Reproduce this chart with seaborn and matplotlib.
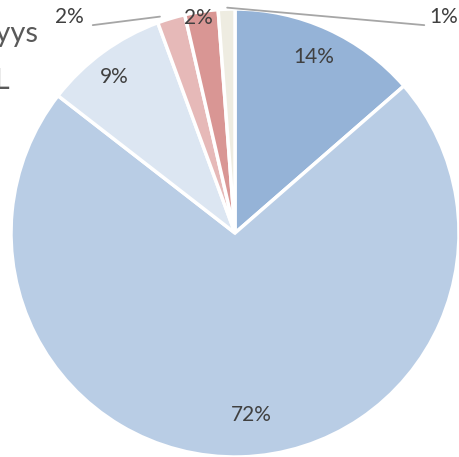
import numpy as np
import matplotlib
matplotlib.use("Agg")
import matplotlib.pyplot as plt
import seaborn as sns

# osuudet (prosenttia), kellon suuntaan ylhäältä alkaen
shares = [13.6, 71.9, 8.9, 2.0, 2.4, 1.2]
slice_colors = ["#95B3D7", "#B9CDE5", "#DCE6F2", "#E6B9B8", "#D99694", "#EEECE1"]
labels = [f"{v:.0f}%" for v in shares]

sns.set_theme(style="white")
plt.rcParams["font.family"] = ["Lato", "DejaVu Sans"]

W, H = 459, 457
cx, cy, R = 235, 233, 224

fig = plt.figure(figsize=(W / 100, H / 100), dpi=100)
ax = fig.add_axes([(cx - R) / W, (H - cy - R) / H, 2 * R / W, 2 * R / H])

wedges, _ = ax.pie(shares, colors=sns.color_palette(slice_colors), startangle=90,
                   counterclock=False, radius=1,
                   wedgeprops=dict(edgecolor="white", linewidth=2.5))
ax.set_xlim(-1, 1)
ax.set_ylim(-1, 1)
ax.set_aspect("equal")
ax.axis("off")

# label placement: (radial distance, angle shift in degrees) for inside labels,
# or explicit text position in axes units for the small slices with leader lines
label_style = [
    ("in", 0.86, 0.5),
    ("in", 0.815, 3.5),
    ("in", 0.88, 1.5),
    ("out", (-0.74, 0.963), (-0.335, 0.966)),
    ("in", 0.975, 1.0),
    ("out", (0.93, 0.963), (-0.035, 1.006)),
]

txt_color = "#404040"
for w, lab, st in zip(wedges, labels, label_style):
    mid = np.deg2rad((w.theta1 + w.theta2) / 2)
    if st[0] == "in":
        a = mid + np.deg2rad(st[2])
        ax.text(st[1] * np.cos(a), st[1] * np.sin(a), lab, ha="center", va="center",
                fontsize=15, color=txt_color)
    else:
        tx, ty = st[1]
        ex, ey = st[2]
        ax.text(tx, ty, lab, ha="center", va="center", fontsize=15, color=txt_color,
                clip_on=False)
        sx = tx + (0.105 if tx < 0 else -0.085)
        ax.plot([sx, ex], [ty - 0.035, ey], color="#A6A6A6", lw=1.3, clip_on=False)

# otsikko, joka on kuvassa osittain rajautunut
fig.text(38 / W, 1 - 42 / H, "Kestävyys", ha="right", va="baseline",
         fontsize=21, color="#595959")
fig.text(10 / W, 1 - 89 / H, "Yhteensä L", ha="right", va="baseline",
         fontsize=21, color="#595959")

fig.savefig("out.png", dpi=100)
